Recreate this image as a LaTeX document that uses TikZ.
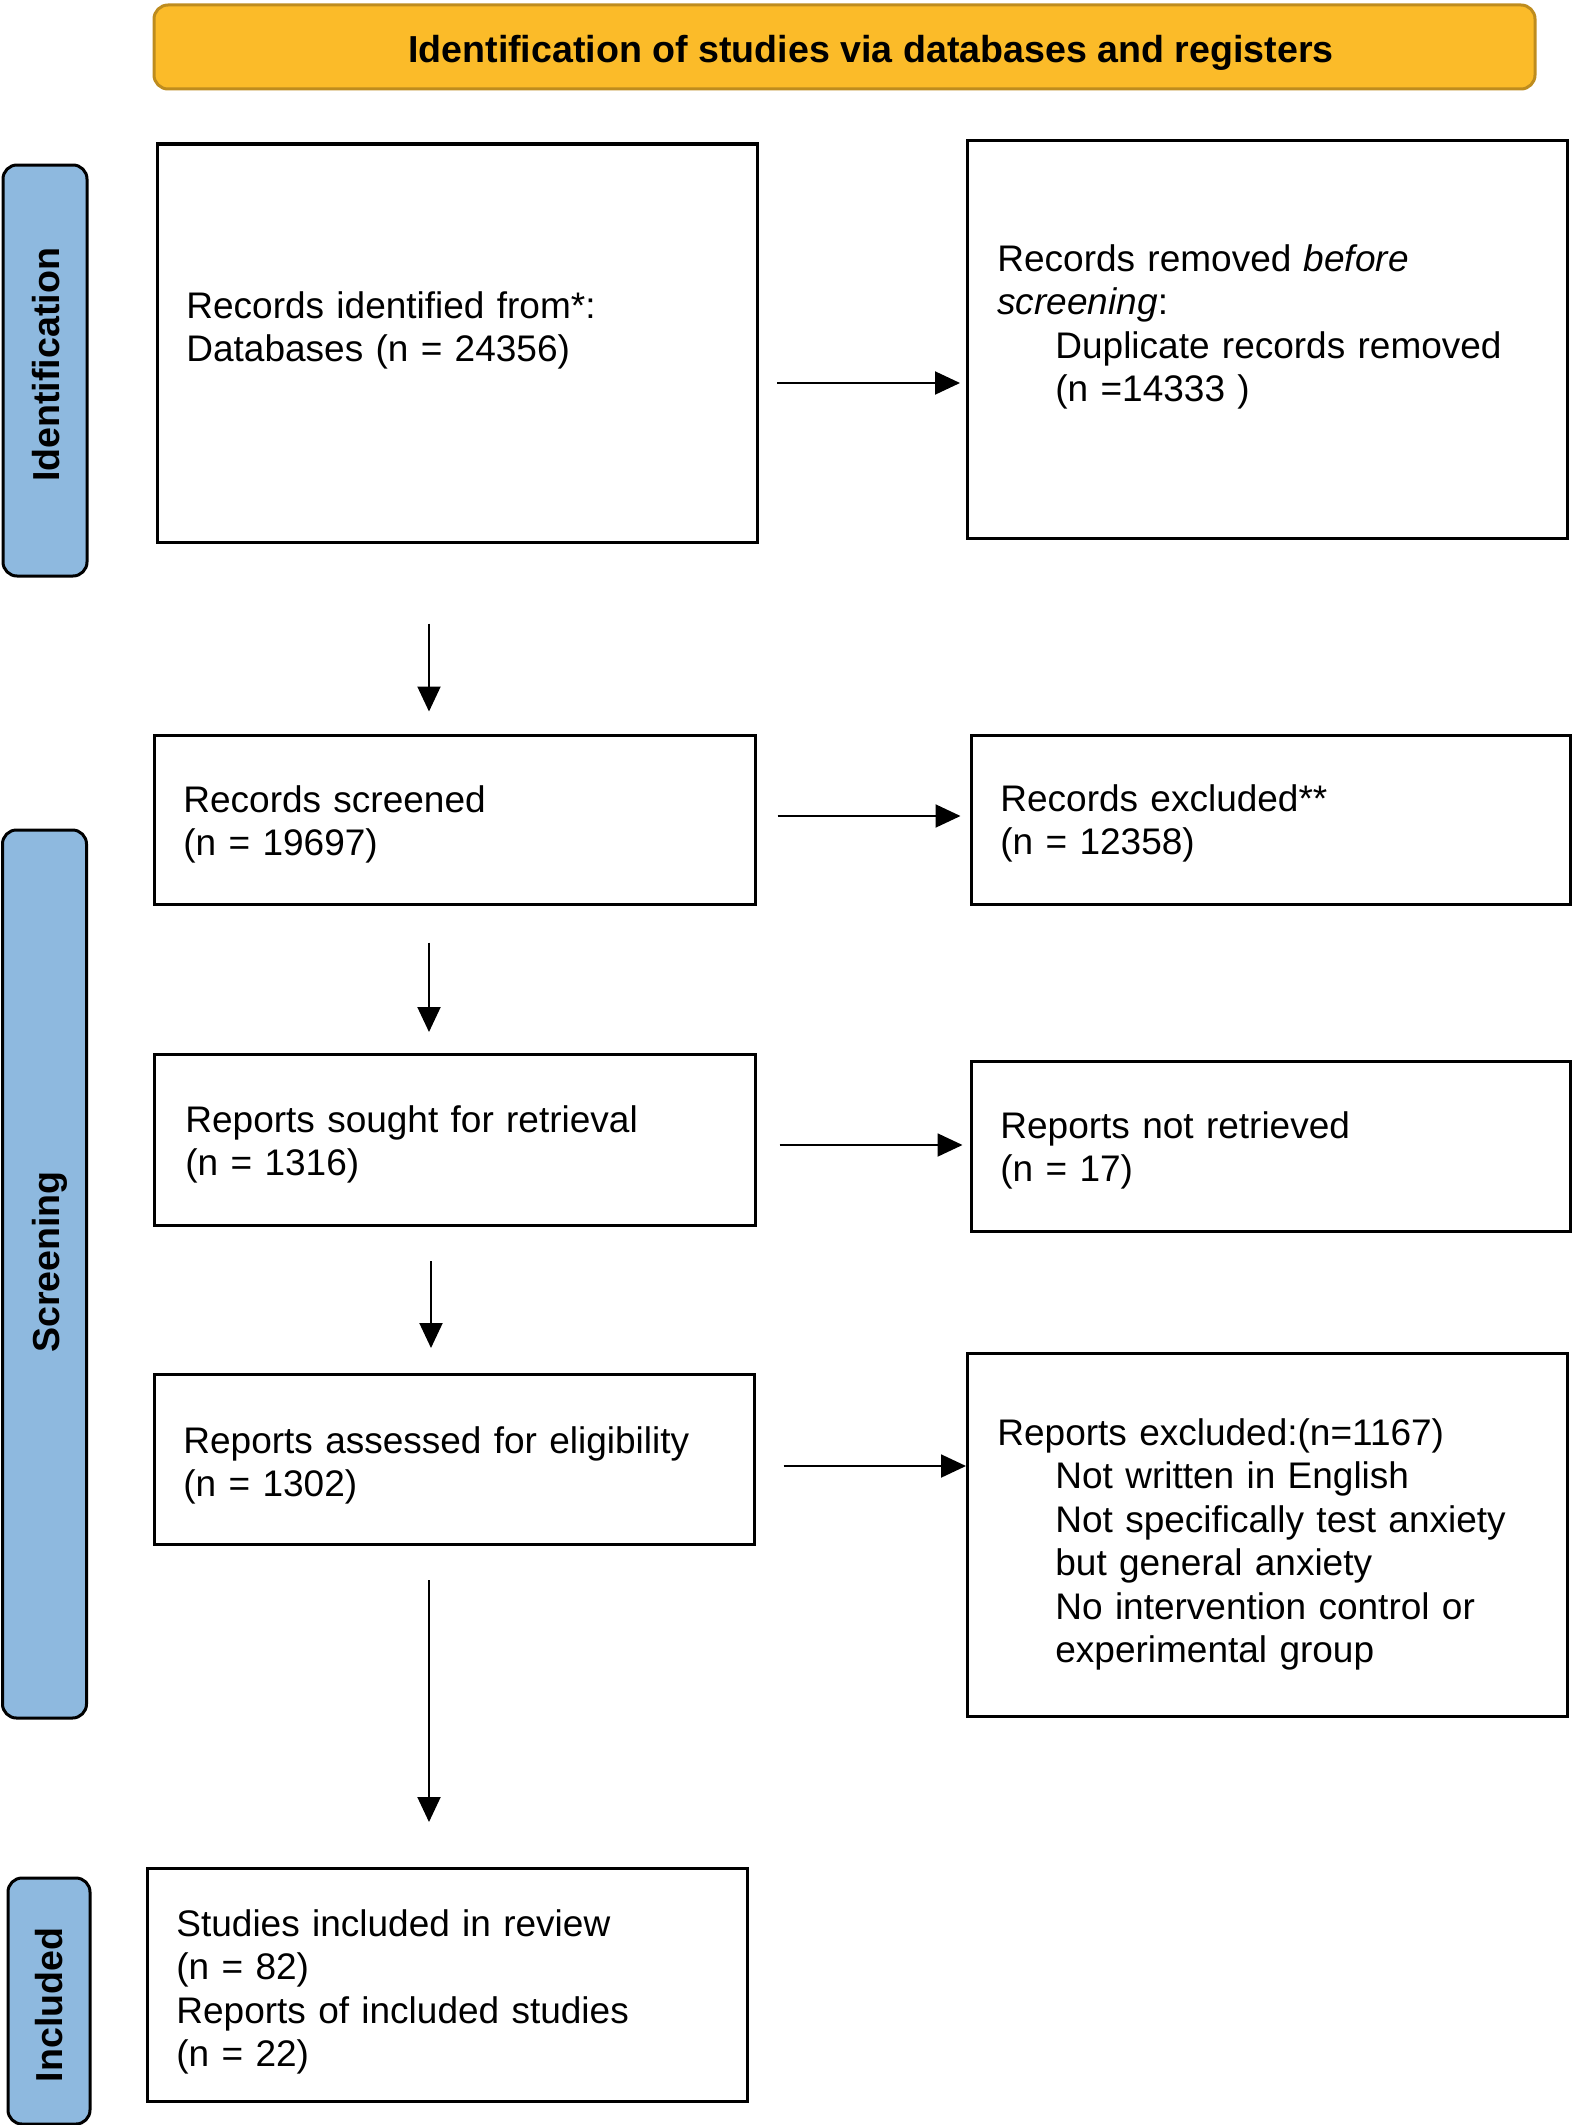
\documentclass[tikz,border=0pt]{standalone}
\usepackage{fontspec}
\setmainfont{Liberation Sans}
\usetikzlibrary{arrows.meta}
\definecolor{bannerfill}{RGB}{251,187,41}
\definecolor{bannerdraw}{RGB}{190,140,30}
\definecolor{tabfill}{RGB}{142,185,223}
\begin{document}
\begin{tikzpicture}[x=0.5pt,y=-0.5pt,
  box/.style={draw=black, line width=1.6pt, anchor=north west, inner sep=0pt},
  txt/.style={anchor=base west, inner sep=0pt, text width=300pt, align=left,
    font=\fontsize{18.5}{21.75}\selectfont},
  tab/.style={draw=black, line width=1.5pt, fill=tabfill, rounded corners=7pt,
    rotate=90, minimum height=42pt, inner sep=0pt},
  tablabel/.style={rotate=90, inner sep=0pt, text height=13.5pt, text depth=0pt,
    font=\fontsize{18.8}{21.75}\selectfont\bfseries},
  banner/.style={draw=bannerdraw, line width=1.5pt, fill=bannerfill, rounded corners=7pt,
    inner sep=0pt},
  arr/.style={line width=1pt, -{Triangle[length=12.5pt, width=11.5pt]}}]
\useasboundingbox (0,0) rectangle (1575,2125);

% banner
\node[banner, minimum width=690.5pt, minimum height=42pt] (ban) at (844.5,47) {};
\node[tablabel, rotate=-90] (bt) at (871,49) {Identification of studies via databases and registers};

% side tabs
\node[tab, minimum width=205.5pt] (tab1) at (45,370.5) {};
\node[tablabel] (l1) at (46,365) {Identification};
\node[tab, minimum width=444pt] (tab2) at (44.5,1274) {};
\node[tablabel] (l2) at (46,1262) {Screening};
\node[tab, minimum width=123pt, minimum height=41pt] (tab3) at (49,2001) {};
\node[tablabel] (l3) at (49,2005) {Included};

% boxes
\node[box, minimum width=300pt, minimum height=199pt] (b1) at (156,142.5) {};
\node[box, minimum width=300pt, minimum height=199pt] (b2) at (966,139) {};
\node[box, minimum width=300.5pt, minimum height=84.5pt] (b3) at (152.5,733.5) {};
\node[box, minimum width=299.75pt, minimum height=84.5pt] (b4) at (969.5,733.5) {};
\node[box, minimum width=300.5pt, minimum height=85.5pt] (b5) at (152.5,1053) {};
\node[box, minimum width=299.75pt, minimum height=85pt] (b6) at (969.5,1060) {};
\node[box, minimum width=300pt, minimum height=85pt] (b7) at (152.5,1373) {};
\node[box, minimum width=300pt, minimum height=181.5pt] (b8) at (966,1352) {};
\node[box, minimum width=300pt, minimum height=116.5pt] (b9) at (146,1867) {};

% texts
\node[txt] (t1) at (186,318) {Records identified from*:\\Databases (n = 24356)};
\node[txt] (t2) at (997,271) {Records removed \textit{before}\\\textit{screening}:\\
  \hspace*{29pt}Duplicate records removed\\\hspace*{29pt}(n =14333 )};
\node[txt] (t3) at (183,812) {Records screened\\(n = 19697)};
\node[txt] (t4) at (1000,811) {Records excluded**\\(n = 12358)};
\node[txt] (t5) at (185,1132) {Reports sought for retrieval\\(n = 1316)};
\node[txt] (t6) at (1000,1138) {Reports not retrieved\\(n = 17)};
\node[txt] (t7) at (183,1453) {Reports assessed for eligibility\\(n = 1302)};
\node[txt] (t8) at (997,1445) {Reports excluded:(n=1167)\\
  \hspace*{29pt}Not written in English\\
  \hspace*{29pt}Not specifically test anxiety\\
  \hspace*{29pt}but general anxiety\\
  \hspace*{29pt}No intervention control or\\
  \hspace*{29pt}experimental group};
\node[txt] (t9) at (176,1936) {Studies included in review\\(n = 82)\\Reports of included studies\\(n = 22)};

% guide coordinates
\coordinate (r1) at (0,383);
\coordinate (r2) at (0,816);
\coordinate (r3) at (0,1145);
\coordinate (r4) at (0,1466);
\coordinate (c1) at (429,0);
\coordinate (c3) at (431,0);

% horizontal arrows
\draw[arr, shorten <=9pt, shorten >=3pt] (b1.east |- r1) -- (b2.west |- r1);
\draw[arr, shorten <=10.5pt, shorten >=4.5pt] (b3.east |- r2) -- (b4.west |- r2);
\draw[arr, shorten <=11.5pt, shorten >=3.5pt] (b5.east |- r3) -- (b6.west |- r3);
\draw[arr, shorten <=14pt, shorten >=0pt] (b7.east |- r4) -- (b8.west |- r4);

% vertical arrows
\draw[arr, shorten <=40pt, shorten >=11pt] (b1.south -| c1) -- (b3.north -| c1);
\draw[arr, shorten <=18.5pt, shorten >=10.5pt] (b3.south -| c1) -- (b5.north -| c1);
\draw[arr, shorten <=17pt, shorten >=12.5pt] (b5.south -| c3) -- (b7.north -| c3);
\draw[arr, shorten <=17pt, shorten >=22.5pt] (b7.south -| c1) -- (b9.north -| c1);
\end{tikzpicture}
\end{document}
